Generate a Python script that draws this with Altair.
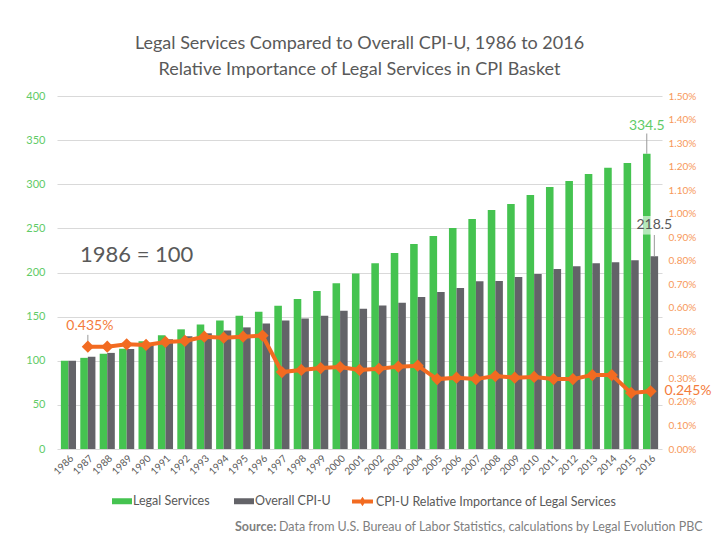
import altair as alt
import pandas as pd

years = [str(y) for y in range(1986, 2017)]
legal = [100, 103.3, 107.8, 113.6, 122.2, 128.9, 135.6, 141.1, 145.6, 151.1, 155.6,
         162.2, 170.0, 178.9, 187.8, 199.0, 210.6, 222.0, 232.2, 241.3, 250.4, 260.6,
         270.8, 277.7, 287.9, 297.0, 303.8, 311.7, 318.6, 324.2, 334.5]
cpi = [100, 104.4, 108.9, 113.3, 119.2, 124.4, 127.8, 131.1, 134.4, 137.8, 142.2,
       145.6, 147.8, 151.1, 156.7, 158.9, 162.6, 165.6, 172.2, 177.9, 182.4, 190.0,
       190.4, 194.9, 198.3, 204.0, 207.2, 210.6, 211.7, 214.0, 218.5]
rel_imp = [None, 0.435, 0.435, 0.445, 0.442, 0.455, 0.459, 0.477, 0.473, 0.477, 0.482,
           0.327, 0.336, 0.344, 0.348, 0.336, 0.341, 0.350, 0.354, 0.297, 0.303, 0.297,
           0.310, 0.303, 0.306, 0.297, 0.297, 0.314, 0.314, 0.238, 0.245]
right_ticks = [round(i * 0.1, 1) for i in range(16)]
series_names = ["Legal Services", "Overall CPI-U"]
line_name = "CPI-U Relative Importance of Legal Services"

GREEN = "#45C350"
GREY = "#636368"
ORANGE = "#F26B21"
TXT = "#595959"
FONT = "Lato"

bars_df = pd.DataFrame({
    "year": years * 2,
    "series": [series_names[0]] * len(years) + [series_names[1]] * len(years),
    "value": legal + cpi,
})
line_df = pd.DataFrame({"year": years, "rel": rel_imp, "name": line_name}).dropna()

W, H = 605, 353

x_enc = alt.X("year:N", sort=years,
              scale=alt.Scale(paddingInner=0.22, paddingOuter=0.2),
              axis=alt.Axis(title=None, labelAngle=-45, labelFontSize=10,
                            labelColor=TXT, ticks=False, domain=False,
                            labelPadding=4, labelFont=FONT))

y_left = alt.Y("value:Q",
               scale=alt.Scale(domain=[0, 400]),
               axis=alt.Axis(title=None, values=list(range(0, 401, 50)),
                             labelColor="#5FCB68", labelFontSize=11,
                             labelFont=FONT, ticks=False, domain=False,
                             gridColor="#d9d9d9", labelPadding=12))

bars = alt.Chart(bars_df).mark_bar().encode(
    x=x_enc,
    xOffset=alt.XOffset("series:N", sort=series_names,
                        scale=alt.Scale(paddingInner=0, paddingOuter=0)),
    y=y_left,
    color=alt.Color("series:N", sort=series_names,
                    scale=alt.Scale(domain=series_names, range=[GREEN, GREY]),
                    legend=alt.Legend(title=None, orient="none", direction="horizontal",
                                      legendX=55, legendY=395,
                                      symbolType="M-1,-0.3H1V0.3H-1Z", symbolSize=400,
                                      symbolStrokeWidth=0, labelFontSize=12.5,
                                      labelColor=TXT, labelFont=FONT, labelOffset=1,
                                      columnPadding=24, labelLimit=0)),
)

# background box for 218.5 label
label_bg = alt.Chart(pd.DataFrame({"year": ["2016"], "y1": [243.0], "y2": [264.0]})).mark_rect(
    color="white", opacity=0.6
).encode(x=alt.X("year:N", sort=years), y=alt.Y("y1:Q"), y2="y2:Q")

ann_left = pd.DataFrame({
    "year": ["2016", "2016"],
    "series": series_names,
    "value": [legal[-1], cpi[-1]],
    "lab": [f"{legal[-1]:.1f}", f"{cpi[-1]:.1f}"],
    "top": [legal[-1] + 23, cpi[-1] + 24],
})
leader_left = alt.Chart(ann_left).mark_rule(color="#999999", strokeWidth=1).encode(
    x=alt.X("year:N", sort=years),
    xOffset=alt.XOffset("series:N", sort=series_names),
    y="value:Q", y2="top:Q",
)
lab_green = alt.Chart(ann_left.iloc[[0]]).mark_text(
    color="#5FCB68", fontSize=14, font=FONT, baseline="bottom", dy=-1
).encode(x=alt.X("year:N", sort=years), xOffset=alt.XOffset("series:N", sort=series_names),
         y="top:Q", text="lab:N")
lab_grey = alt.Chart(ann_left.iloc[[1]]).mark_text(
    color=TXT, fontSize=14, font=FONT, baseline="bottom", dy=-3
).encode(x=alt.X("year:N", sort=years), xOffset=alt.XOffset("series:N", sort=series_names),
         y="top:Q", text="lab:N")

base_txt = alt.Chart(pd.DataFrame({"year": ["1989"], "value": [219.8], "t": ["1986 = 100"]})).mark_text(
    color=TXT, fontSize=22, font=FONT, baseline="middle", align="center", dx=10
).encode(x=alt.X("year:N", sort=years), y="value:Q", text="t:N")

left_layer = alt.layer(bars, label_bg, leader_left, lab_green, lab_grey, base_txt)

y_right_scale = alt.Scale(domain=[0, 1.5])
right_axis = alt.Axis(title=None, orient="right", values=right_ticks,
                      labelExpr="format(datum.value / 100, '.2%')",
                      labelColor="#F7985A", labelFontSize=10, labelFont=FONT,
                      labelOverlap=False, labelBound=False,
                      ticks=False, domain=False, grid=False, labelPadding=6)

line = alt.Chart(line_df).mark_line(color=ORANGE, strokeWidth=4).encode(
    x=alt.X("year:N", sort=years), y=alt.Y("rel:Q", scale=y_right_scale, axis=right_axis))
pts = alt.Chart(line_df).mark_point(shape="diamond", filled=True, size=150, opacity=1).encode(
    x=alt.X("year:N", sort=years), y=alt.Y("rel:Q", scale=y_right_scale, axis=right_axis),
    color=alt.Color("name:N", scale=alt.Scale(domain=[line_name], range=[ORANGE]),
                    legend=alt.Legend(title=None, orient="none", legendX=295, legendY=395,
                                      symbolType="M-1,-0.2H1V0.2H-1Z M0,-0.45L0.3,0L0,0.45L-0.3,0Z",
                                      symbolSize=440, symbolStrokeWidth=0,
                                      labelFontSize=12.5, labelColor=TXT, labelFont=FONT,
                                      labelOffset=3, labelLimit=0)),
)

ann_right = pd.DataFrame({
    "year": ["1987", "2016"],
    "rel": [rel_imp[1], rel_imp[-1]],
    "lab": [f"{rel_imp[1]:.3f}%", f"{rel_imp[-1]:.3f}%"],
    "top": [rel_imp[1] + 0.05, rel_imp[-1]],
})
lead_r = alt.Chart(ann_right.iloc[[0]]).mark_rule(color="#999999", strokeWidth=1).encode(
    x=alt.X("year:N", sort=years),
    y=alt.Y("rel:Q", scale=y_right_scale, axis=right_axis), y2="top:Q")
lab_r1 = alt.Chart(ann_right.iloc[[0]]).mark_text(
    color="#F47B3B", fontSize=14, font=FONT, baseline="bottom", dy=-2, dx=2
).encode(x=alt.X("year:N", sort=years),
         y=alt.Y("top:Q", scale=y_right_scale, axis=right_axis), text="lab:N")
lab_r2 = alt.Chart(ann_right.iloc[[1]]).mark_text(
    color="#F47B3B", fontSize=14, font=FONT, baseline="middle", align="left", dx=14
).encode(x=alt.X("year:N", sort=years),
         y=alt.Y("top:Q", scale=y_right_scale, axis=right_axis), text="lab:N")

right_layer = alt.layer(line, lead_r, pts, lab_r1, lab_r2)

src_bold = alt.Chart(pd.DataFrame({"t": ["Source:"]})).mark_text(
    font=FONT, fontSize=12.5, fontWeight="bold", color="#7f7f7f", align="left", baseline="middle"
).encode(x=alt.value(178), y=alt.value(431), text="t:N")
src_rest = alt.Chart(pd.DataFrame({"t": ["Data from  U.S. Bureau of Labor Statistics, calculations by Legal Evolution PBC"]})).mark_text(
    font=FONT, fontSize=12.5, color="#7f7f7f", align="left", baseline="middle"
).encode(x=alt.value(222), y=alt.value(431), text="t:N")

chart = alt.layer(left_layer, right_layer, src_bold, src_rest).resolve_scale(
    y="independent", color="independent"
).properties(
    width=W, height=H,
    padding={"left": 49, "top": 88, "right": 50, "bottom": 89},
    autosize=alt.AutoSizeParams(type="none"),
    title=alt.TitleParams(
        text=["Legal Services Compared to Overall CPI-U, 1986 to 2016",
              "Relative Importance of Legal Services in CPI Basket"],
        font=FONT, fontSize=18, fontWeight="normal", color=TXT,
        lineHeight=26, offset=11, anchor="middle"),
).configure_view(stroke=None)

chart.save("out.html", embed_options={"renderer": "svg", "actions": False})
